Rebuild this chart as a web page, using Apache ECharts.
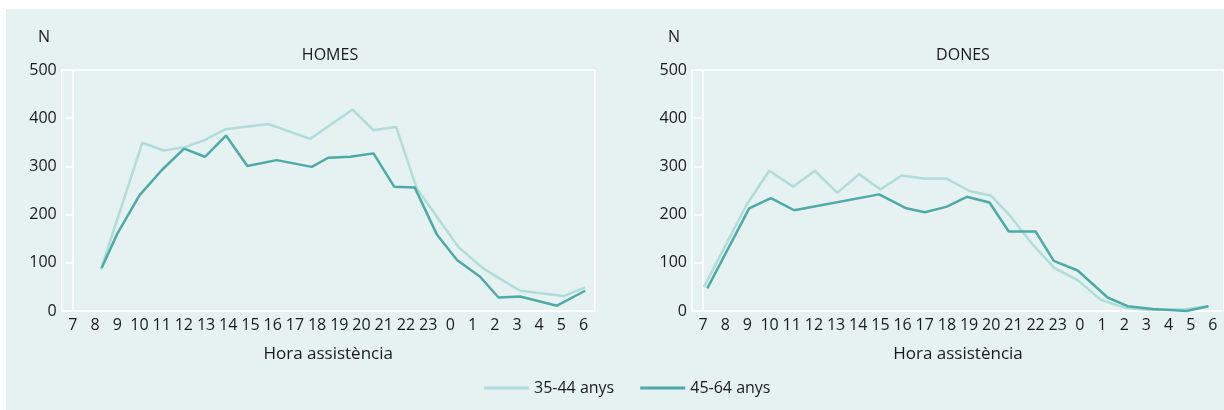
<!DOCTYPE html>
<html>
<head>
<meta charset="utf-8">
<script src="https://cdn.jsdelivr.net/npm/echarts@6/dist/echarts.min.js"></script>
<style>
  html, body { margin: 0; padding: 0; background: #fff; }
  #chart { position: absolute; left: 6px; top: 9px; width: 1218px; height: 401px; background: #e5f2f1; }
</style>
</head>
<body>
<div id="chart"></div>
<script>
// hour labels on the x axis
const hours = ['7', '8', '9', '10', '11', '12', '13', '14', '15', '16', '17', '18', '19', '20', '21', '22', '23', '0', '1', '2', '3', '4', '5', '6']
const yTicks = [0, 100, 200, 300, 400, 500]
const seriesNames = ['35-44 anys', '45-64 anys']

// positions are hours after 7:00 (0 = 7h, 17 = 0h), values = N
const homesPos3544 = [1.26, 3.13, 4.08, 5.05, 5.95, 6.86, 8.81, 10.68, 12.6, 13.54, 14.56, 15.49, 17.36, 18.49, 20.14, 22.1, 23.07]
const homesVal3544 = [86, 349, 333, 340, 355, 377, 388, 357, 418, 375, 382, 254, 133, 88, 42, 31, 49]
const homesPos4564 = [1.3, 2.0, 3.0, 4.0, 5.01, 5.95, 6.9, 7.86, 9.18, 10.76, 11.5, 12.49, 13.54, 14.47, 15.4, 16.4, 17.3, 18.34, 19.17, 20.14, 21.8, 23.07]
const homesVal4564 = [89, 160, 240, 292, 337, 320, 364, 301, 313, 299, 318, 320, 327, 258, 256, 158, 106, 71, 28, 30, 11, 42]

const donesPos3544 = [0.04, 1.96, 2.98, 4.06, 5.04, 6.05, 7.04, 8.0, 8.96, 9.92, 10.97, 12.02, 13.0, 13.82, 14.87, 15.85, 16.9, 17.95, 19.08, 20.13, 21.78, 22.8]
const donesVal3544 = [50, 220, 291, 258, 291, 245, 284, 252, 281, 275, 275, 249, 239, 199, 138, 89, 64, 23, 6, 2, 4, 10]
const donesPos4564 = [0.19, 2.08, 3.06, 4.11, 7.94, 9.17, 10.0, 10.97, 11.9, 12.92, 13.79, 15.0, 15.82, 16.9, 18.25, 19.15, 20.28, 21.81, 22.8]
const donesVal4564 = [47, 213, 234, 209, 242, 213, 205, 216, 237, 225, 165, 165, 104, 84, 28, 10, 4, 0, 10]

const LIGHT = '#b0dcd9'
const DARK = '#4eaaa7'
const TEXT = '#1a1a1a'
const FONT = 'Open Sans'

const pairs = (xs, ys) => xs.map((x, i) => [x, ys[i]])

const chart = echarts.init(document.getElementById('chart'))

const catAxis = (gridIndex) => ({
  type: 'category',
  gridIndex: gridIndex,
  data: hours,
  boundaryGap: true,
  name: 'Hora assistència',
  nameLocation: 'middle',
  nameGap: 35,
  nameTextStyle: { color: TEXT, fontSize: 17, fontFamily: FONT },
  axisLine: { lineStyle: { color: '#fff', width: 1.5 } },
  axisTick: { alignWithLabel: true, inside: true, length: 4, lineStyle: { color: '#fff', width: 1.5 } },
  axisLabel: { interval: 0, margin: 6, color: TEXT, fontSize: 16, fontFamily: FONT },
  splitLine: { show: false }
})

const posAxis = (gridIndex) => ({
  type: 'value',
  gridIndex: gridIndex,
  min: -0.5,
  max: 23.5,
  show: false
})

const valAxis = (gridIndex) => ({
  type: 'value',
  gridIndex: gridIndex,
  min: yTicks[0],
  max: yTicks[yTicks.length - 1],
  interval: 100,
  axisLine: { show: true, lineStyle: { color: '#fff', width: 1.5 } },
  axisTick: { show: true, inside: false, length: 8, lineStyle: { color: '#fff', width: 1.5 } },
  axisLabel: { margin: 5, color: TEXT, fontSize: 16, fontFamily: FONT },
  splitLine: { show: false }
})

const line = (name, color, xIdx, yIdx, data) => ({
  name: name,
  type: 'line',
  xAxisIndex: xIdx,
  yAxisIndex: yIdx,
  data: data,
  symbol: 'none',
  clip: false,
  color: color,
  lineStyle: { color: color, width: 2.5 }
})

const label = (text, x, y) => ({
  type: 'text',
  x: x,
  y: y,
  style: { text: text, fill: TEXT, font: '16px "Open Sans"', align: 'center', verticalAlign: 'middle' }
})

const options = {
  animation: false,
  textStyle: { fontFamily: FONT },
  grid: [
    { left: 55.7, top: 61, width: 533, bottom: 99, show: true, borderColor: '#fff', borderWidth: 1.5, backgroundColor: 'transparent' },
    { left: 686, top: 61, width: 533, bottom: 99, show: true, borderColor: '#fff', borderWidth: 1.5, backgroundColor: 'transparent' }
  ],
  xAxis: [catAxis(0), catAxis(1), posAxis(0), posAxis(1)],
  yAxis: [valAxis(0), valAxis(1)],
  legend: {
    data: seriesNames,
    left: 473,
    top: 366,
    icon: 'rect',
    itemWidth: 45,
    itemHeight: 3,
    itemGap: 26,
    textStyle: { color: TEXT, fontSize: 16, fontFamily: FONT }
  },
  graphic: [
    label('N', 38, 28),
    label('N', 668, 28),
    label('HOMES', 324, 46),
    label('DONES', 957, 46)
  ],
  series: [
    line(seriesNames[0], LIGHT, 2, 0, pairs(homesPos3544, homesVal3544)),
    line(seriesNames[1], DARK, 2, 0, pairs(homesPos4564, homesVal4564)),
    line(seriesNames[0], LIGHT, 3, 1, pairs(donesPos3544, donesVal3544)),
    line(seriesNames[1], DARK, 3, 1, pairs(donesPos4564, donesVal4564))
  ]
}
chart.setOption(options)
</script>
</body>
</html>
